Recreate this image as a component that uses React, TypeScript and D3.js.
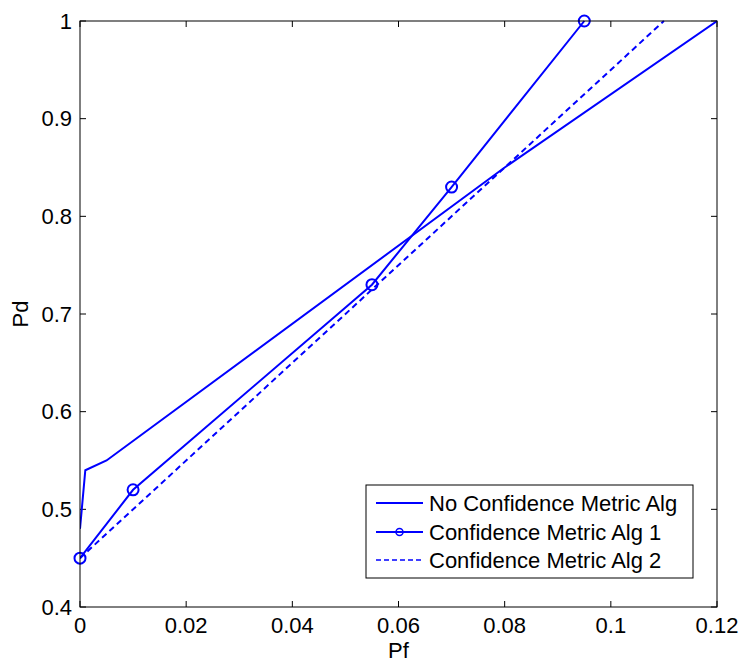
import React from "react";
import * as d3 from "d3";

const noConfX = [0, 0.001, 0.005, 0.08, 0.12];
const noConfY = [0.48, 0.54, 0.55, 0.85, 1.0];
const alg1X = [0, 0.01, 0.055, 0.07, 0.095];
const alg1Y = [0.45, 0.52, 0.73, 0.83, 1.0];
const alg2X = [0, 0.11];
const alg2Y = [0.45, 1.0];
const xTicks = [0, 0.02, 0.04, 0.06, 0.08, 0.1, 0.12];
const yTicks = [0.4, 0.5, 0.6, 0.7, 0.8, 0.9, 1];
const legendLabels = ["No Confidence Metric Alg", "Confidence Metric Alg 1", "Confidence Metric Alg 2"];

const W = 742, H = 662;
const L = 80, R = 717, T = 21, B = 607;
const FONT = "Liberation Sans, Arial, Helvetica, sans-serif";
const BLUE = "#0000ff";
const FS = 22;

export default function App() {
  const x = d3.scaleLinear().domain([0, 0.12]).range([L, R]);
  const y = d3.scaleLinear().domain([0.4, 1]).range([B, T]);
  const line = d3.line<[number, number]>().x(d => x(d[0])).y(d => y(d[1]));
  const zip = (a: number[], b: number[]) => a.map((v, i) => [v, b[i]] as [number, number]);
  const s0 = zip(noConfX, noConfY);
  const s1 = zip(alg1X, alg1Y);
  const s2 = zip(alg2X, alg2Y);
  const fmt = (v: number) => String(+v.toFixed(2));
  const tl = 6;
  const lgX = 366, lgY = 485, lgW = 327, lgH = 93;
  const rowY = [503, 532, 560];
  return (
    <svg width={W} height={H} style={{ position: "absolute", left: 0, top: 0, background: "#fff" }}>
      <rect x={0} y={0} width={W} height={H} fill="#fff" />
      <defs>
        <clipPath id="pc"><rect x={L} y={T - 1} width={R - L} height={B - T + 1} /></clipPath>
      </defs>
      {xTicks.map(t => (
        <g key={"x" + t}>
          <line x1={x(t)} x2={x(t)} y1={B} y2={B - tl} stroke="#000" />
          <line x1={x(t)} x2={x(t)} y1={T} y2={T + tl} stroke="#000" />
          <text x={x(t)} y={B + 26} fontSize={FS} fontFamily={FONT} textAnchor="middle">{fmt(t)}</text>
        </g>
      ))}
      {yTicks.map(t => (
        <g key={"y" + t}>
          <line x1={L} x2={L + tl} y1={y(t)} y2={y(t)} stroke="#000" />
          <line x1={R} x2={R - tl} y1={y(t)} y2={y(t)} stroke="#000" />
          <text x={L - 8} y={y(t) + 7.5} fontSize={FS} fontFamily={FONT} textAnchor="end">{fmt(t)}</text>
        </g>
      ))}
      <g clipPath="url(#pc)">
        <path d={line(s2) || ""} fill="none" stroke={BLUE} strokeWidth={2} strokeDasharray="6,4" />
        <path d={line(s0) || ""} fill="none" stroke={BLUE} strokeWidth={2} />
        <path d={line(s1) || ""} fill="none" stroke={BLUE} strokeWidth={2} />
      </g>
      {s1.map((d, i) => (
        <circle key={i} cx={x(d[0])} cy={y(d[1])} r={5.5} fill="none" stroke={BLUE} strokeWidth={2} />
      ))}
      <rect x={L} y={T} width={R - L} height={B - T} fill="none" stroke="#000" strokeWidth={1} />
      <text x={(L + R) / 2} y={B + 51} fontSize={FS} fontFamily={FONT} textAnchor="middle">Pf</text>
      <text transform={`translate(28,${(T + B) / 2}) rotate(-90)`} fontSize={FS} fontFamily={FONT} textAnchor="middle">Pd</text>
      <rect x={lgX} y={lgY} width={lgW} height={lgH} fill="#fff" stroke="#000" strokeWidth={1} />
      {legendLabels.map((lab, i) => (
        <g key={lab}>
          <line x1={376} x2={423} y1={rowY[i]} y2={rowY[i]} stroke={BLUE} strokeWidth={i === 2 ? 1.5 : 2} strokeDasharray={i === 2 ? "5,3" : undefined} />
          {i === 1 && <circle cx={399.5} cy={rowY[i]} r={3.5} fill="none" stroke={BLUE} strokeWidth={1.5} />}
          <text x={429} y={rowY[i] + 7.5} fontSize={FS} fontFamily={FONT}>{lab}</text>
        </g>
      ))}
    </svg>
  );
}
